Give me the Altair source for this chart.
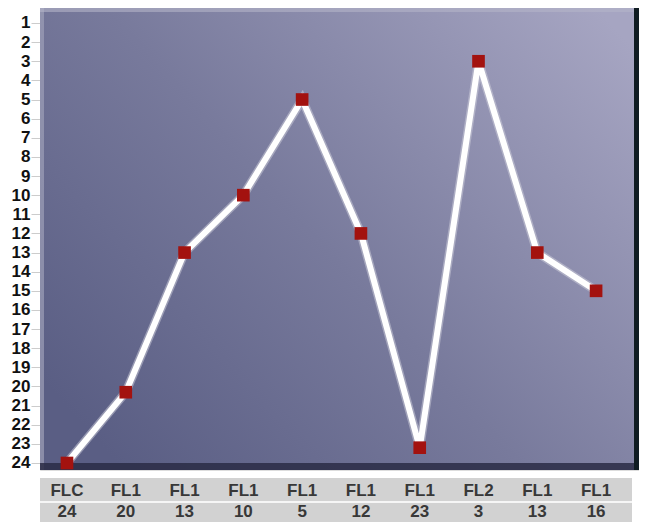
import altair as alt
import pandas as pd

# data
codes = ["FLC", "FL1", "FL1", "FL1", "FL1", "FL1", "FL1", "FL2", "FL1", "FL1"]
labels = ["24", "20", "13", "10", "5", "12", "23", "3", "13", "16"]
positions = [24, 20.3, 13, 10, 5, 12, 23.2, 3, 13, 15]
y_ticks = list(range(1, 25))

W, H = 599, 462
df = pd.DataFrame({"idx": list(range(len(codes))), "pos": positions,
                   "code": codes, "lab": labels})
one = pd.DataFrame({"a": [0]})

xs = alt.Scale(domain=[-0.459, 9.73], nice=False, zero=False)
ys = alt.Scale(domain=[0.216, 24.366], reverse=True, nice=False, zero=False)

bg = alt.Chart(one).mark_rect(
    fill=alt.Gradient(
        gradient="linear",
        stops=[alt.GradientStop(color="#5a5e84", offset=0),
               alt.GradientStop(color="#787a9c", offset=0.45),
               alt.GradientStop(color="#a6a5c2", offset=1)],
        x1=0, y1=0.8, x2=1, y2=0.1),
).encode(x=alt.value(0), x2=alt.value(W), y=alt.value(0), y2=alt.value(H))

left_hi = alt.Chart(one).mark_rect(color="#9ea0b8", opacity=0.7).encode(
    x=alt.value(0), x2=alt.value(4), y=alt.value(0), y2=alt.value(H))
top_hi = alt.Chart(one).mark_rect(color="#b4b4c8", opacity=0.6).encode(
    x=alt.value(0), x2=alt.value(W), y=alt.value(0), y2=alt.value(4))
bottom_sh = alt.Chart(one).mark_rect(color="#2a2c45", opacity=0.85).encode(
    x=alt.value(0), x2=alt.value(W), y=alt.value(H - 7), y2=alt.value(H))
right_sh = alt.Chart(one).mark_rect(color="#0f1c22").encode(
    x=alt.value(W - 5), x2=alt.value(W), y=alt.value(0), y2=alt.value(H))

base = alt.Chart(df).encode(
    x=alt.X("idx:Q", scale=xs, axis=None),
    y=alt.Y("pos:Q", scale=ys, axis=alt.Axis(
        values=y_ticks, title=None, domain=False, grid=False,
        ticks=True, tickSize=9, tickColor="#cccccc", tickWidth=1,
        labelFontSize=17, labelFontWeight="bold", labelColor="#111111",
        labelPadding=1, labelFont="Liberation Sans Narrow, Liberation Sans",
        labelOverlap=False)),
)
glow = base.mark_line(color="#d0d0dc", strokeWidth=9, opacity=0.5)
line = base.mark_line(color="#ffffff", strokeWidth=6)
pts = base.mark_square(color="#a3120f", size=160, opacity=1)

band = alt.Chart(one).mark_rect(color="#d2d2d2").encode(
    x=alt.value(0), x2=alt.value(592), y=alt.value(H + 8), y2=alt.value(H + 52))
sep = alt.Chart(one).mark_rect(color="#f6f6f6").encode(
    x=alt.value(0), x2=alt.value(592), y=alt.value(H + 31), y2=alt.value(H + 33))

t1 = alt.Chart(df).mark_text(font="Liberation Sans Narrow, Liberation Sans",
                             fontSize=17, fontWeight="bold",
                             color="#383838", baseline="middle").encode(
    x=alt.X("idx:Q", scale=xs, axis=None), y=alt.value(H + 21), text="code:N")
t2 = alt.Chart(df).mark_text(font="Liberation Sans Narrow, Liberation Sans",
                             fontSize=17, fontWeight="bold",
                             color="#383838", baseline="middle").encode(
    x=alt.X("idx:Q", scale=xs, axis=None), y=alt.value(H + 42), text="lab:N")

chart = alt.layer(bg, left_hi, top_hi, bottom_sh, right_sh, glow, line, pts,
                  band, sep, t1, t2).properties(
    width=W, height=H,
    autosize=alt.AutoSizeParams(type="none"),
    padding={"left": 32, "top": 0, "right": 0, "bottom": 52},
).configure_view(stroke=None).configure(background="#ffffff")

chart.save("out.html", embed_options={"renderer": "svg", "actions": False})
